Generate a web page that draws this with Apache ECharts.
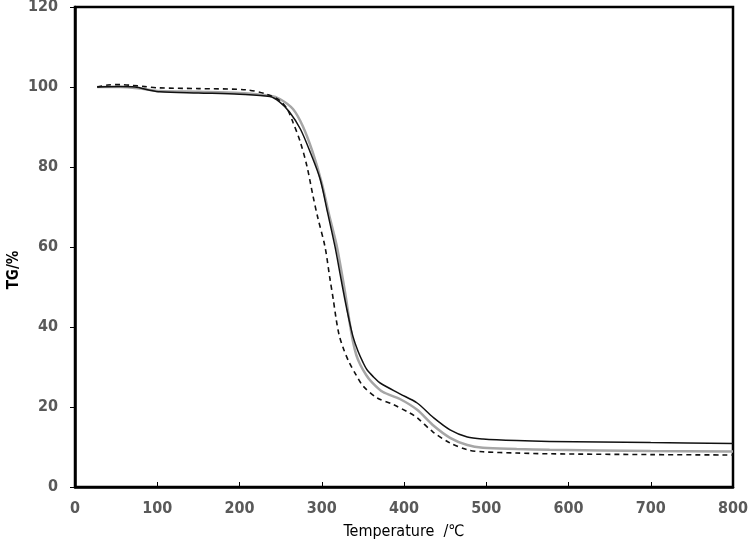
<!DOCTYPE html>
<html>
<head>
<meta charset="utf-8">
<script src="https://cdn.jsdelivr.net/npm/echarts@6/dist/echarts.min.js"></script>
<style>html,body{margin:0;padding:0;background:#fff;}#c{width:750px;height:548px;}</style>
</head>
<body>
<div id="c"></div>
<script>
// Temperature (°C) / TG (%) pairs
const solidT  = [27, 55, 73, 91, 103, 150, 200, 237, 249, 261, 274, 286, 298, 307, 316, 323, 328, 333, 338, 344, 350, 355, 363, 371, 395, 416, 435, 456, 477, 496, 537, 577, 700, 800];
const solidTG = [100, 100.1, 100, 99.2, 98.8, 98.5, 98.2, 97.6, 96.2, 93.7, 89.5, 83.7, 77, 68.7, 60.2, 52.5, 47, 42, 37.6, 34, 31.2, 29.3, 27.5, 26, 23.3, 21, 17.5, 14.3, 12.5, 12, 11.6, 11.4, 11.1, 10.9];

const grayT  = [27, 55, 80, 103, 150, 200, 237, 249, 265, 277, 289, 300, 309, 318, 326, 330, 334, 338, 342, 347, 354, 360, 374, 395, 416, 435, 456, 477, 496, 537, 577, 700, 800];
const grayTG = [100, 100, 99.6, 99, 98.8, 98.5, 97.8, 97, 94.5, 90.2, 83.7, 76, 68, 60.5, 51.5, 46.5, 41, 36.3, 33, 30.5, 28, 26.4, 23.8, 22, 19.3, 15.5, 12.3, 10.5, 9.8, 9.5, 9.3, 9.0, 8.85];

const dashT  = [27, 40, 55, 70, 85, 100, 150, 208, 233, 249, 258, 265, 274, 282, 289.4, 295, 304, 310, 314, 317.5, 321, 326, 333, 341.5, 350, 367, 387, 407, 416, 435, 456, 477, 496, 537, 577, 700, 800];
const dashTG = [100, 100.5, 100.6, 100.4, 100.1, 99.8, 99.6, 99.3, 98.2, 96.6, 94.5, 91.2, 86.2, 80.2, 72.7, 67.5, 60, 52, 46.9, 42, 38.1, 34.8, 31.3, 28.1, 25.3, 22.3, 20.6, 18.5, 17.3, 13.8, 11, 9.3, 8.8, 8.5, 8.3, 8.1, 8.0];

const xTicks = {min: 0, max: 800, interval: 100};
const yTicks = {min: 0, max: 120, interval: 20};

const pair = (xs, ys) => xs.map((x, i) => [x, ys[i]]);

const labelFont = {color: '#595959', fontSize: 16, fontWeight: 'bold', fontFamily: 'Liberation Sans Narrow, DejaVu Sans Condensed, sans-serif'};

const chart = echarts.init(document.getElementById('c'));
chart.setOption({
  animation: false,
  backgroundColor: '#fff',
  grid: {left: 75, right: 17, top: 7, bottom: 61, containLabel: false, outerBoundsMode: 'none', show: true, borderColor: '#000', borderWidth: 2.5, backgroundColor: 'transparent'},
  xAxis: {
    type: 'value', min: xTicks.min, max: xTicks.max, interval: xTicks.interval,
    name: 'Temperature  /\u2103', nameLocation: 'middle', nameGap: 37, nameMoveOverlap: false,
    nameTextStyle: {color: '#000', fontSize: 16, fontFamily: 'Liberation Sans Narrow, DejaVu Sans Condensed, sans-serif'},
    axisLine: {show: true, lineStyle: {color: '#000', width: 2.5}},
    axisTick: {show: true, inside: true, length: 5, lineStyle: {color: '#000', width: 1}},
    axisLabel: Object.assign({margin: 14}, labelFont),
    splitLine: {show: false}
  },
  yAxis: {
    type: 'value', min: yTicks.min, max: yTicks.max, interval: yTicks.interval,
    name: 'TG/%', nameLocation: 'middle', nameGap: 53, nameMoveOverlap: false,
    nameTextStyle: {color: '#000', fontSize: 15, fontWeight: 'bold', fontFamily: 'Liberation Sans Narrow, DejaVu Sans Condensed, sans-serif', padding: [0, 0, 0, -46]},
    axisLine: {show: true, lineStyle: {color: '#000', width: 2.5}},
    axisTick: {show: true, inside: false, length: 5, lineStyle: {color: '#000', width: 1}},
    axisLabel: Object.assign({margin: 17}, labelFont),
    splitLine: {show: false}
  },
  series: [
    {type: 'line', data: pair(grayT, grayTG), smooth: 0.3, showSymbol: false, lineStyle: {color: '#a6a6a6', width: 2.5}, z: 2},
    {type: 'line', data: pair(solidT, solidTG), smooth: 0.3, showSymbol: false, lineStyle: {color: '#111', width: 1.5}, z: 3},
    {type: 'line', data: pair(dashT, dashTG), smooth: 0.3, showSymbol: false, lineStyle: {color: '#111', width: 1.6, type: [5, 4]}, z: 4}
  ]
});
</script>
</body>
</html>
